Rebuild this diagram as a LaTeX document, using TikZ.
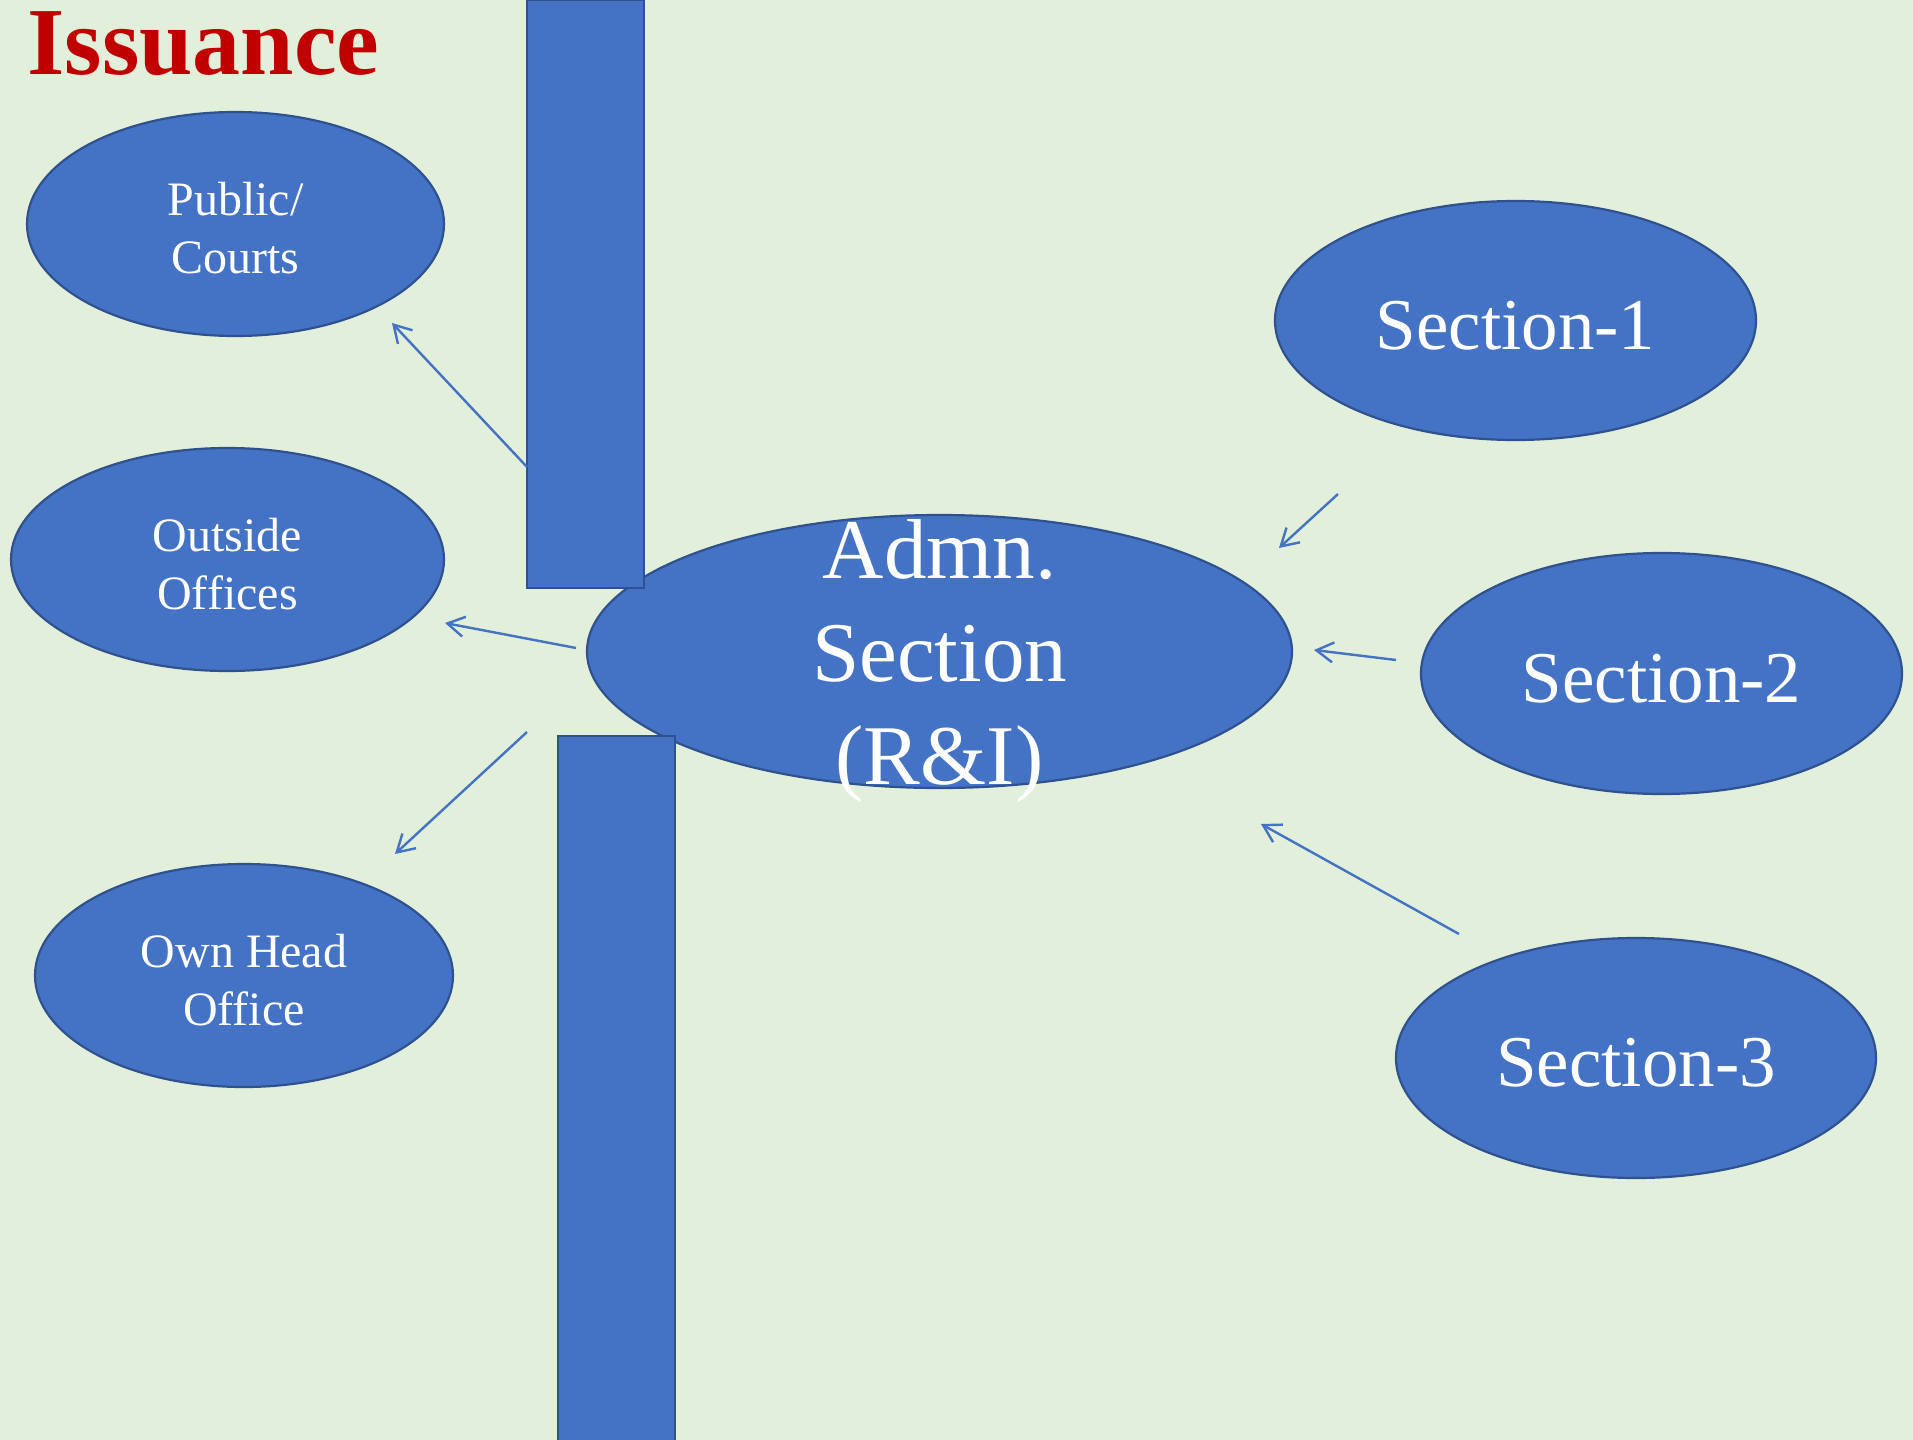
\documentclass[tikz,border=0pt]{standalone}
\usepackage{fontspec}
\setmainfont{Liberation Serif}
\usetikzlibrary{shapes.geometric,arrows.meta}
\definecolor{bgc}{HTML}{E2EFDA}
\definecolor{fillc}{HTML}{4472C4}
\definecolor{edgec}{HTML}{2F528F}
\definecolor{titlec}{HTML}{C00000}
\tikzset{
  bubble/.style={ellipse, draw=edgec, fill=fillc, line width=1.1pt, inner sep=0pt, text=white, align=center},
  smalltext/.style={font=\fontsize{24}{29}\selectfont, text depth=0pt},
  sectext/.style={font=\fontsize{36.5}{43}\selectfont},
  bigtext/.style={font=\fontsize{42.5}{51.5}\selectfont},
  bar/.style={draw=edgec, fill=fillc, line width=1.1pt},
  flow/.style={draw=fillc, line width=1.2pt, -{Straight Barb[length=8.5pt,width=10pt,line width=1.2pt]}}
}
\begin{document}
\begin{tikzpicture}[x=0.5pt,y=-0.5pt]
\useasboundingbox[fill=bgc] (0,0) rectangle (1913,1440);
\node[anchor=base west, text=titlec, font=\fontsize{48}{58}\bfseries\selectfont, inner sep=0pt] (title) at (27,75) {Issuance};
% ellipses
\node[bubble, smalltext, minimum width=208.5pt, minimum height=112pt] (pub) at (235.5,224) {};
\node[bubble, smalltext, minimum width=216.5pt, minimum height=111.5pt] (out) at (227.5,559.5) {};
\node[bubble, smalltext, minimum width=209pt, minimum height=111.5pt] (own) at (244,975.5) {};
\node[bubble, sectext, minimum width=240.5pt, minimum height=119.5pt] (s1) at (1515.5,320.5) {};
\node[bubble, sectext, minimum width=240.5pt, minimum height=120.5pt] (s2) at (1661.5,673.5) {};
\node[bubble, sectext, minimum width=240pt, minimum height=120pt] (s3) at (1636,1058) {};
\node[bubble, minimum width=352.5pt, minimum height=136.5pt] (adm) at (939.5,651.5) {};
% labels
\node[text=white, align=center, smalltext, inner sep=0pt, yshift=-2pt] (pubt) at (pub) {Public/\\Courts};
\node[text=white, align=center, smalltext, inner sep=0pt, yshift=-2pt] (outt) at (out) {Outside\\Offices};
\node[text=white, align=center, smalltext, inner sep=0pt, yshift=-2pt] (ownt) at (own) {Own Head\\Office};
\node[text=white, sectext, inner sep=0pt, yshift=-2.5pt] (s1t) at (s1) {Section-1};
\node[text=white, sectext, inner sep=0pt, yshift=-2.5pt] (s2t) at (s2) {Section-2};
\node[text=white, sectext, inner sep=0pt, yshift=-2.5pt] (s3t) at (s3) {Section-3};
% bars
\path[bar] (527,0) rectangle (644,588);
\path[bar] (558,736) rectangle (675,1445);
\node[text=white, align=center, bigtext, inner sep=0pt, yshift=-5pt] (admtext) at (adm) {Admn.\\Section\\(R\&I)};
% arrow end points
\coordinate (a1s) at (527,467); \coordinate (a1e) at (392,323);
\coordinate (a2s) at (576,648); \coordinate (a2e) at (445,623);
\coordinate (a3s) at (527,732); \coordinate (a3e) at (395,854);
\coordinate (b1s) at (1338,494); \coordinate (b1e) at (1279,548);
\coordinate (b2s) at (1396,660); \coordinate (b2e) at (1314,650);
\coordinate (b3s) at (1459,934); \coordinate (b3e) at (1261,824);
\draw[flow] (a1s) -- (a1e);
\draw[flow] (a2s) -- (a2e);
\draw[flow] (a3s) -- (a3e);
\draw[flow] (b1s) -- (b1e);
\draw[flow] (b2s) -- (b2e);
\draw[flow] (b3s) -- (b3e);
\end{tikzpicture}
\end{document}
